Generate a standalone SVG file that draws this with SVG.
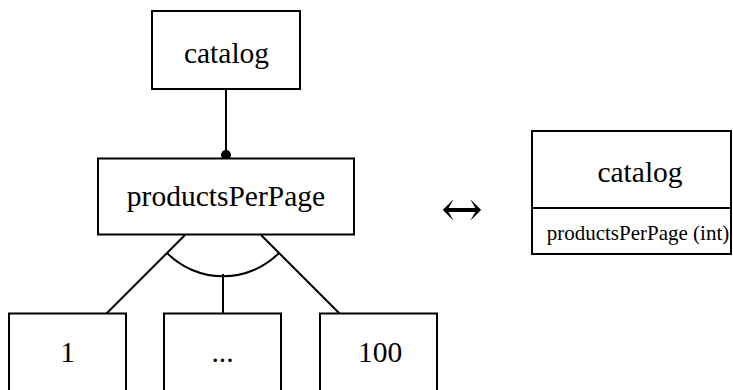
<svg xmlns="http://www.w3.org/2000/svg" width="733" height="390" viewBox="0 0 733 390">
<style>
.box{fill:#fff;stroke:#000;stroke-width:2}
.ln{fill:none;stroke:#000;stroke-width:2}
.t{font-family:"Liberation Serif","Times New Roman",serif;font-size:29.5px;fill:#000;text-anchor:middle}
.s{font-family:"Liberation Serif","Times New Roman",serif;font-size:21px;fill:#000;text-anchor:middle}
.a{font-family:"DejaVu Serif",serif;font-size:50px;fill:#000;text-anchor:middle}
</style>
<g id="connectors">
<line class="ln" x1="226" y1="89" x2="226" y2="155"/>
<circle cx="226" cy="155" r="5" fill="#000"/>
<line class="ln" x1="185" y1="235" x2="106" y2="314"/>
<line class="ln" x1="261" y1="235" x2="340" y2="314"/>
<line class="ln" x1="223" y1="274" x2="223" y2="314"/>
<path class="ln" d="M167,253 A79,79 0 0 0 279,253"/>
</g>
<g id="catalog">
<rect class="box" x="152" y="11" width="148" height="78"/>
<text class="t" x="226.5" y="62.5">catalog</text>
</g>
<g id="productsPerPage">
<rect class="box" x="98" y="158.5" width="256" height="76"/>
<text class="t" x="226" y="206">productsPerPage</text>
</g>
<g id="v1">
<rect class="box" x="9" y="313.5" width="117" height="90"/>
<text class="t" x="67.5" y="362">1</text>
</g>
<g id="v2">
<rect class="box" x="164" y="313.5" width="117" height="90"/>
<text class="t" x="222.5" y="362">...</text>
</g>
<g id="v3">
<rect class="box" x="320" y="313.5" width="117" height="90"/>
<text class="t" x="380" y="362">100</text>
</g>
<g id="equiv">
<text class="a" x="462" y="226">↔</text>
</g>
<g id="catalogClass">
<rect class="box" x="532" y="131" width="199" height="123"/>
<line class="ln" x1="532" y1="208" x2="731" y2="208"/>
<text class="t" x="640" y="182">catalog</text>
<text class="s" x="638" y="240">productsPerPage (int)</text>
</g>
</svg>
